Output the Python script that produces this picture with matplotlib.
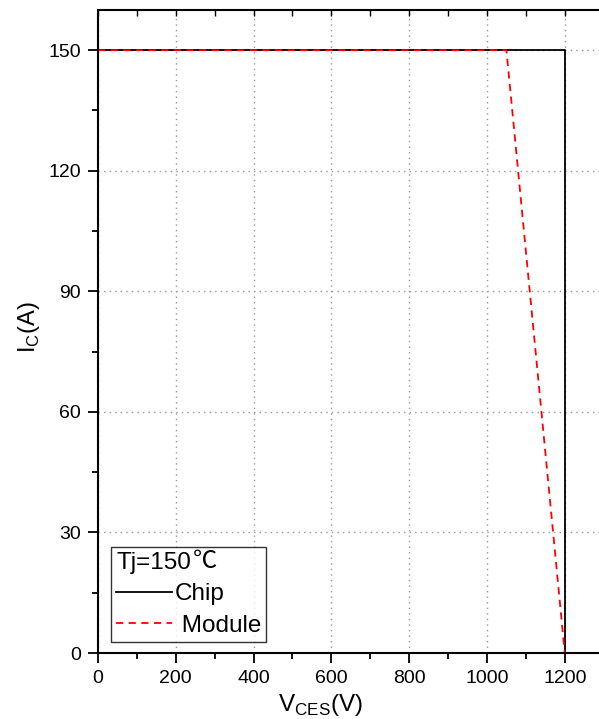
import numpy as np
import matplotlib
matplotlib.use('Agg')
import matplotlib.pyplot as plt
from matplotlib.ticker import MultipleLocator

plt.rcParams['font.family'] = ['Liberation Sans', 'Noto Sans CJK SC', 'DejaVu Sans']
plt.rcParams['mathtext.fontset'] = 'custom'
plt.rcParams['mathtext.rm'] = 'Liberation Sans'

# data
chip_v = [0, 1200, 1200]
chip_i = [150, 150, 0]
module_v = [0, 1050, 1200]
module_i = [150, 150, 0]

fig = plt.figure(figsize=(5.99, 7.19), dpi=100)
ax = fig.add_axes([98 / 599, 66 / 719, 1 - 98 / 599, 643 / 719])

ax.plot(chip_v, chip_i, color='black', lw=1.3, label='Chip')
ax.plot(module_v, module_i, color='red', lw=1.3, ls=(0, (4, 3)), label=' Module')

ax.set_xlim(0, 1288)
ax.set_ylim(0, 160)
ax.xaxis.set_major_locator(MultipleLocator(200))
ax.xaxis.set_minor_locator(MultipleLocator(100))
ax.yaxis.set_major_locator(MultipleLocator(30))
ax.yaxis.set_minor_locator(MultipleLocator(15))

ax.grid(True, which='major', color='#999999', ls=(0, (1, 3)), lw=1)
ax.tick_params(which='major', direction='out', length=7, width=1.3, labelsize=14, pad=5.5)
ax.tick_params(which='minor', direction='out', length=4, width=1.3)
ax.tick_params(axis='x', which='both', top=True)
for t in ax.xaxis.get_major_ticks() + ax.xaxis.get_minor_ticks():
    t.tick2line.set_marker(3)  # top ticks point inward
    t.tick2line.set_markersize(4)
    t.tick2line.set_markeredgewidth(1.0)
ax.spines['right'].set_visible(False)
for s in ['left', 'bottom', 'top']:
    ax.spines[s].set_linewidth(1.5)

ax.set_xlabel(r'V$_{\mathregular{CES}}$(V)', fontsize=17.5)
ax.xaxis.set_label_coords(0.443, -0.061)
ax.set_ylabel(r'I$_{\mathregular{C}}$(A)', fontsize=17)
ax.yaxis.set_label_coords(-0.112, 0.506)

leg = ax.legend(loc='lower left', bbox_to_anchor=(0.026, 0.017), title='Tj=150',
                fontsize=17.5, title_fontsize=17.5, frameon=True, fancybox=False,
                edgecolor='black', handlelength=2.3, handletextpad=0.1,
                borderpad=0.22, labelspacing=0.38, borderaxespad=0)
leg.get_frame().set_linewidth(1.0)
leg._legend_box.align = 'left'

# degree sign drawn with the CJK font, right after the legend title
fig.canvas.draw()
tb = leg.get_title().get_window_extent()
fig.text(tb.x1 / fig.dpi / 5.99 + 0.003, tb.y0 / fig.dpi / 7.19, '℃', fontsize=17.5,
         family='Noto Sans CJK SC', va='bottom', ha='left')

fig.savefig('out.png', dpi=100)
